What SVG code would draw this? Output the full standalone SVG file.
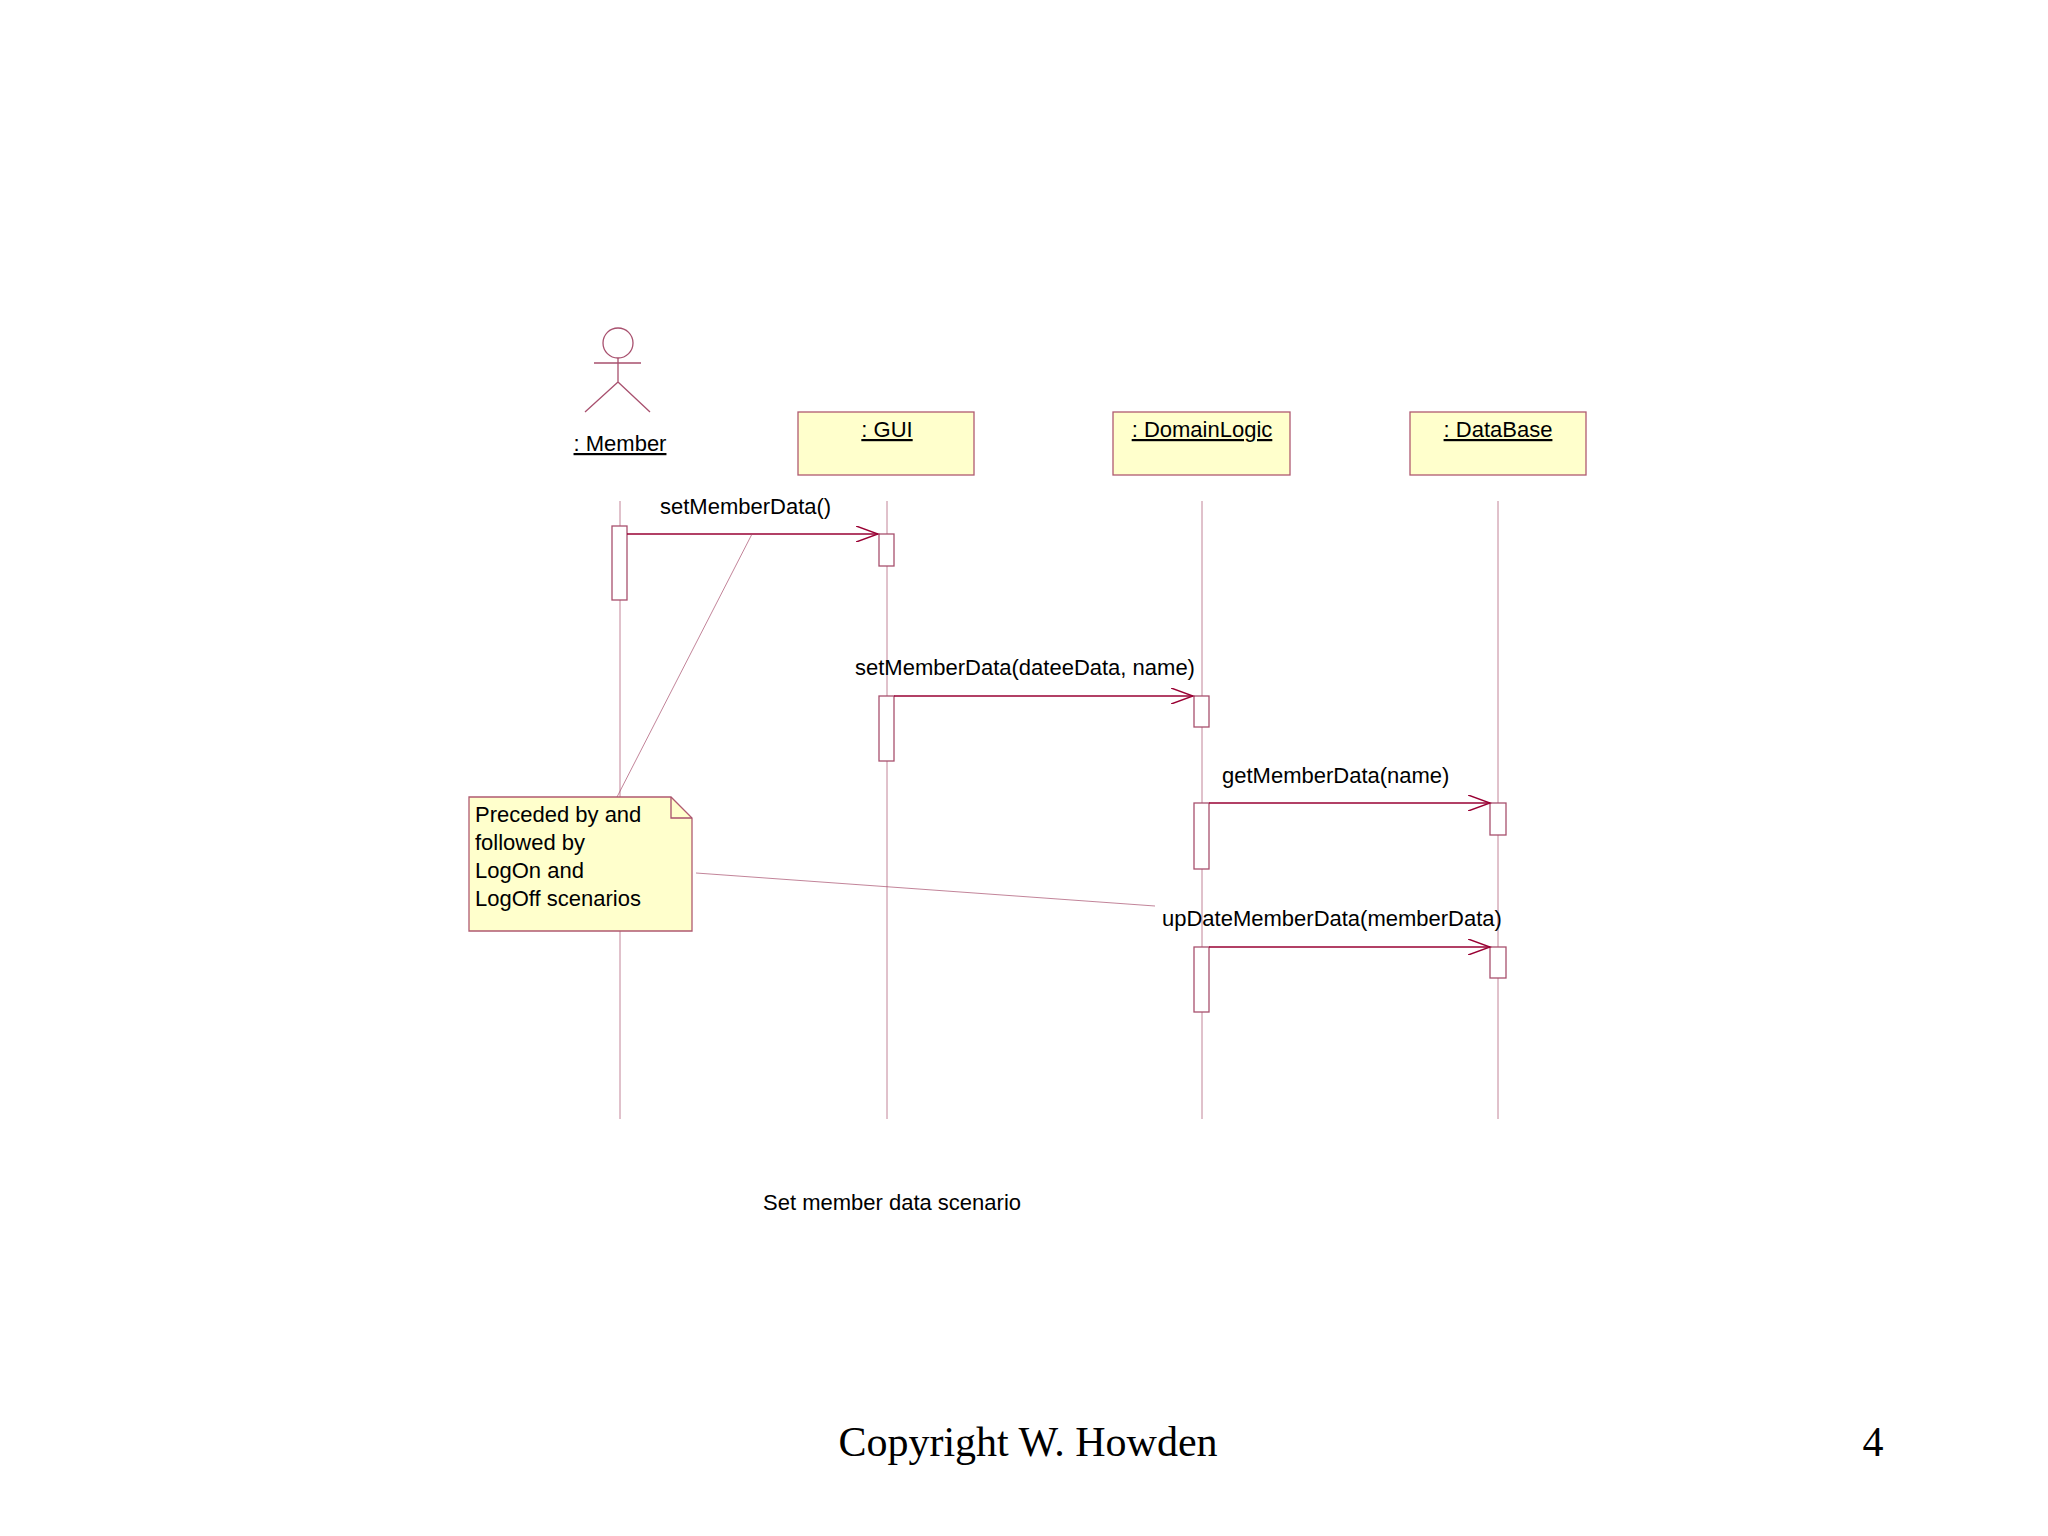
<svg xmlns="http://www.w3.org/2000/svg" width="2048" height="1536" viewBox="0 0 2048 1536">
<style>
.ln{stroke:#a8506e;stroke-width:1.3;fill:none}
.life{stroke:#a8506e;stroke-width:1;stroke-opacity:0.7;fill:none}
.box{fill:#ffffcc;stroke:#b05a70;stroke-width:1.3}
.act{fill:#fff;stroke:#a8506e;stroke-width:1.3}
.t{font-family:"Liberation Sans",Arial,sans-serif;font-size:22px;fill:#000}
.u{text-decoration:underline}
.msg{stroke:#990033;stroke-width:1.3;fill:none}
</style>
<defs><marker id="ah" markerWidth="24" markerHeight="16" refX="22" refY="8" orient="auto" markerUnits="userSpaceOnUse"><path d="M0,0 L22,8 L0,16" fill="none" stroke="#990033" stroke-width="1.5"/></marker></defs>
<rect width="2048" height="1536" fill="#fff"/>
<g id="member"><circle class="ln" cx="618" cy="343" r="15"/><path class="ln" d="M594,363H641M618,358V382M618,382L585,412M618,382L650,412"/><text class="t u" x="620" y="451" text-anchor="middle"> : Member</text></g>
<g id="gui"><rect class="box" x="798" y="412" width="176" height="63"/><text class="t u" x="887" y="437" text-anchor="middle"> : GUI</text></g>
<g id="domain"><rect class="box" x="1113" y="412" width="177" height="63"/><text class="t u" x="1202" y="437" text-anchor="middle"> : DomainLogic</text></g>
<g id="db"><rect class="box" x="1410" y="412" width="176" height="63"/><text class="t u" x="1498" y="437" text-anchor="middle"> : DataBase</text></g>
<g id="lifelines"><path class="life" d="M620,501V1119M887,501V1119M1202,501V1119M1498,501V1119"/></g>
<g id="activations">
<rect class="act" x="612" y="526" width="15" height="74"/>
<rect class="act" x="879" y="534" width="15" height="32"/>
<rect class="act" x="879" y="696" width="15" height="65"/>
<rect class="act" x="1194" y="696" width="15" height="31"/>
<rect class="act" x="1194" y="803" width="15" height="66"/>
<rect class="act" x="1490" y="803" width="16" height="32"/>
<rect class="act" x="1194" y="947" width="15" height="65"/>
<rect class="act" x="1490" y="947" width="16" height="31"/>
</g>
<g id="note"><path class="box" d="M469,797H671L692,818V931H469Z"/><path class="ln" d="M671,797V818H692"/>
<text class="t" x="475" y="822">Preceded by and</text><text class="t" x="475" y="850">followed by</text><text class="t" x="475" y="878">LogOn and</text><text class="t" x="475" y="906">LogOff scenarios</text></g>
<g id="connectors">
<path class="msg" d="M627,534H878" marker-end="url(#ah)"/>
<path class="msg" d="M894,696H1193" marker-end="url(#ah)"/>
<path class="msg" d="M1209,803H1490" marker-end="url(#ah)"/>
<path class="msg" d="M1209,947H1490" marker-end="url(#ah)"/>
<path class="life" d="M617,797L752,534M696,873L1155,906"/>
</g>
<g id="labels">
<text class="t" x="660" y="514">setMemberData()</text>
<text class="t" x="855" y="675">setMemberData(dateeData, name)</text>
<text class="t" x="1222" y="783">getMemberData(name)</text>
<text class="t" x="1162" y="926">upDateMemberData(memberData)</text>
<text class="t" x="763" y="1210">Set member data scenario</text>
<text x="1028" y="1456" text-anchor="middle" font-family="Liberation Serif,serif" font-size="42">Copyright W. Howden</text>
<text x="1873" y="1456" text-anchor="middle" font-family="Liberation Serif,serif" font-size="42">4</text>
</g>
</svg>
